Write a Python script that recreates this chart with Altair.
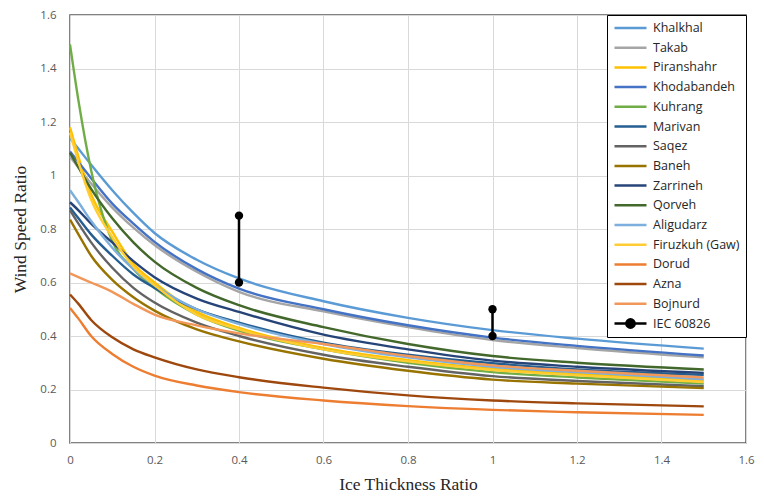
import altair as alt
import pandas as pd

# x positions where each curve was read
x_vals = [0, 0.02, 0.05, 0.1, 0.15, 0.2, 0.3, 0.4, 0.6, 0.8, 1.0, 1.2, 1.5]

stations = ["Khalkhal", "Takab", "Piranshahr", "Khodabandeh", "Kuhrang", "Marivan",
            "Saqez", "Baneh", "Zarrineh", "Qorveh", "Aligudarz", "Firuzkuh (Gaw)",
            "Dorud", "Azna", "Bojnurd"]
colors = ["#5B9BD5", "#A5A5A5", "#FFC000", "#4472C4", "#70AD47", "#255E91",
          "#636363", "#997300", "#264478", "#43682B", "#7CAFDD", "#FFCD33",
          "#ED7D31", "#9E480E", "#F1975A"]

khalkhal = [1.14, 1.10, 1.04, 0.945, 0.86, 0.785, 0.685, 0.615, 0.53, 0.468, 0.422, 0.39, 0.353]
takab = [1.07, 1.03, 0.97, 0.88, 0.805, 0.74, 0.64, 0.565, 0.492, 0.433, 0.385, 0.355, 0.32]
piranshahr = [1.18, 1.07, 0.93, 0.79, 0.67, 0.60, 0.49, 0.43, 0.355, 0.31, 0.278, 0.258, 0.232]
khodabandeh = [1.09, 1.05, 0.99, 0.895, 0.82, 0.752, 0.65, 0.577, 0.50, 0.44, 0.394, 0.363, 0.327]
kuhrang = [1.49, 1.28, 1.02, 0.755, 0.65, 0.58, 0.48, 0.42, 0.35, 0.30, 0.265, 0.245, 0.222]
marivan = [0.88, 0.84, 0.78, 0.70, 0.63, 0.58, 0.50, 0.45, 0.375, 0.33, 0.298, 0.275, 0.255]
saqez = [0.87, 0.82, 0.75, 0.655, 0.58, 0.525, 0.45, 0.40, 0.33, 0.285, 0.25, 0.232, 0.212]
baneh = [0.835, 0.78, 0.70, 0.61, 0.545, 0.495, 0.425, 0.38, 0.315, 0.27, 0.237, 0.222, 0.205]
zarrineh = [0.90, 0.87, 0.82, 0.75, 0.68, 0.62, 0.54, 0.49, 0.405, 0.35, 0.308, 0.285, 0.262]
qorveh = [1.085, 1.03, 0.95, 0.84, 0.75, 0.678, 0.58, 0.515, 0.433, 0.37, 0.325, 0.30, 0.275]
aligudarz = [0.945, 0.90, 0.83, 0.73, 0.65, 0.59, 0.50, 0.445, 0.37, 0.32, 0.285, 0.265, 0.238]
firuzkuh = [1.16, 1.05, 0.91, 0.77, 0.66, 0.59, 0.48, 0.425, 0.35, 0.305, 0.273, 0.253, 0.228]
dorud = [0.505, 0.465, 0.40, 0.333, 0.285, 0.252, 0.215, 0.19, 0.159, 0.138, 0.124, 0.115, 0.105]
azna = [0.555, 0.52, 0.46, 0.395, 0.35, 0.32, 0.275, 0.246, 0.207, 0.178, 0.159, 0.148, 0.137]
bojnurd = [0.634, 0.62, 0.60, 0.565, 0.52, 0.48, 0.44, 0.41, 0.37, 0.325, 0.29, 0.27, 0.245]

series_values = [khalkhal, takab, piranshahr, khodabandeh, kuhrang, marivan, saqez,
                 baneh, zarrineh, qorveh, aligudarz, firuzkuh, dorud, azna, bojnurd]

# IEC 60826 ranges
iec_name = "IEC 60826"
iec_x = [0.4, 0.4, 1.0, 1.0]
iec_y = [0.6, 0.85, 0.4, 0.5]
iec_seg = [1, 1, 2, 2]

tick_values = [0, 0.2, 0.4, 0.6, 0.8, 1.0, 1.2, 1.4, 1.6]

rows = []
for name, vals in zip(stations, series_values):
    for i, (xv, yv) in enumerate(zip(x_vals, vals)):
        rows.append({"series": name, "x": xv, "y": yv, "order": i})
curves = pd.DataFrame(rows)
iec = pd.DataFrame({"series": iec_name, "x": iec_x, "y": iec_y, "seg": iec_seg})

domain = stations + [iec_name]
rng = colors + ["#000000"]
line_path = "M-1,0H1"
iec_path = "M-1,0H1M0.26,0A0.26,0.26,0,1,1,-0.26,0A0.26,0.26,0,1,1,0.26,0Z"
shapes = [line_path] * len(stations) + [iec_path]

xscale = alt.Scale(domain=[0, 1.6], nice=False)
yscale = alt.Scale(domain=[0, 1.6], nice=False)

label_font = "Open Sans"
title_font = "Liberation Serif"

xaxis = alt.Axis(values=tick_values, format="~g",
                 title="Ice Thickness Ratio", titleY=41, titleBaseline="middle",
                 labelPadding=11, tickSize=0, domain=False,
                 gridColor="#D9D9D9", labelFlush=False)
yaxis = alt.Axis(values=tick_values, format="~g",
                 title="Wind Speed Ratio", titleX=-50, titleY=214,
                 titleBaseline="middle", labelPadding=14, tickSize=0, domain=False,
                 gridColor="#D9D9D9")

legend = alt.Legend(title=None, orient="top-right", offset=0,
                    strokeColor="#000000", fillColor="#FFFFFF", padding=6,
                    symbolSize=1024, symbolStrokeWidth=2.5, symbolOpacity=1,
                    clipHeight=14, rowPadding=5.7, labelOffset=5,
                    labelFont=label_font, labelFontSize=12.5, labelColor="#262626",
                    labelLimit=200)

lines = alt.Chart(curves).mark_line(interpolate="monotone", strokeWidth=2.4).encode(
    x=alt.X("x:Q", scale=xscale, axis=xaxis),
    y=alt.Y("y:Q", scale=yscale, axis=yaxis),
    color=alt.Color("series:N", scale=alt.Scale(domain=stations, range=colors), legend=None),
    order="order:Q",
)

iec_line = alt.Chart(iec).mark_line(strokeWidth=2.5, color="#000000").encode(
    x="x:Q", y="y:Q", detail="seg:N")
iec_pts = alt.Chart(iec).mark_circle(size=70, opacity=1, color="#000000").encode(
    x="x:Q", y="y:Q")

# invisible points that only carry the combined legend (line / line+marker symbols)
legend_carrier = alt.Chart(curves).mark_point(
    filled=True, fill="#000000", opacity=0, size=1).encode(
    x="x:Q", y="y:Q",
    stroke=alt.Stroke("series:N", scale=alt.Scale(domain=domain, range=rng), legend=legend),
    shape=alt.Shape("series:N", scale=alt.Scale(domain=domain, range=shapes), legend=legend),
)

chart = alt.layer(lines, iec_line, iec_pts, legend_carrier).properties(
    width=676, height=428,
    autosize=alt.AutoSizeParams(type="none"),
    padding={"left": 62, "top": 7, "right": 10, "bottom": 50},
).configure_view(
    stroke="#595959", strokeWidth=1.5
).configure_axis(
    labelFont=label_font, labelFontSize=11.5, labelColor="#595959",
    titleFont=title_font, titleFontSize=17.5, titleColor="#262626", titleFontWeight="normal",
    grid=True, gridWidth=1
)

chart.save("out.html", embed_options={"renderer": "svg", "actions": False})
